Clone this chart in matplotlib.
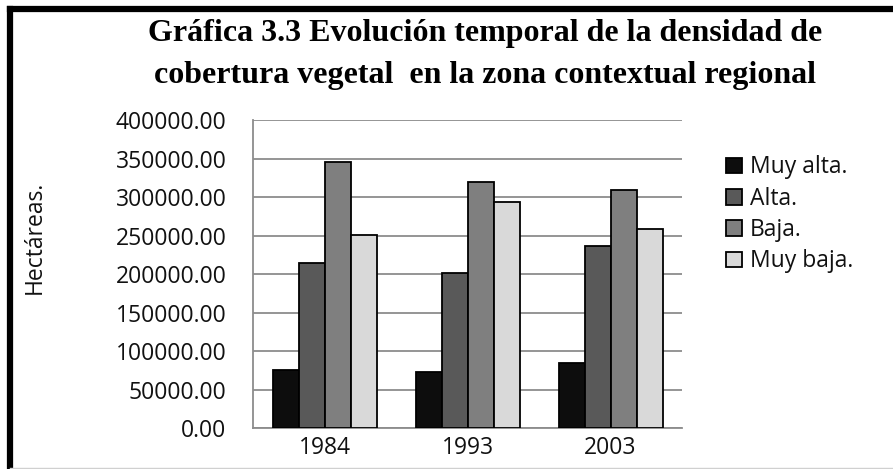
import matplotlib
matplotlib.use("Agg")
import matplotlib.pyplot as plt
import numpy as np
from matplotlib.lines import Line2D

years = ["1984", "1993", "2003"]
series = ["Muy alta.", "Alta.", "Baja.", "Muy baja."]
muy_alta = [75800, 73200, 84100]
alta = [214600, 201200, 237100]
baja = [345900, 320300, 309100]
muy_baja = [251000, 293500, 258800]
values = [muy_alta, alta, baja, muy_baja]
colors = ["#0d0d0d", "#595959", "#7f7f7f", "#d9d9d9"]
yticks = [0, 50000, 100000, 150000, 200000, 250000, 300000, 350000, 400000]

W, H = 893, 469
fig = plt.figure(figsize=(W/100, H/100), dpi=100)
fig.patch.set_facecolor("white")

FS = 16.5
ax = fig.add_axes([253/W, 1-428/H, (682-253)/W, (428-120.5)/H])
x = np.arange(len(years))
bw = 1/5.5
for i, (vals, c, name) in enumerate(zip(values, colors, series)):
    ax.bar(x + (i-1.5)*bw, vals, width=bw, color=c, edgecolor="black",
           linewidth=1.3, label=name, zorder=3)
ax.set_xlim(-0.5, 2.5)
ax.set_ylim(0, 400000)
ax.set_yticks(yticks)
ax.set_yticklabels([f"{v:.2f}" for v in yticks])
ax.set_xticks(x)
ax.set_xticklabels(years)
ax.grid(axis="y", color="#8c8c8c", linewidth=1.3, zorder=0)
for s in ["top", "right"]:
    ax.spines[s].set_visible(False)
for s in ["left", "bottom"]:
    ax.spines[s].set_color("#8c8c8c")
    ax.spines[s].set_linewidth(1.3)
ax.tick_params(axis="y", length=0, pad=19, labelsize=FS)
ax.tick_params(axis="x", length=0, pad=6, labelsize=FS)
for lab in ax.get_xticklabels() + ax.get_yticklabels():
    lab.set_fontfamily("Open Sans")
    lab.set_color("#111111")

fig.text(35/W, 1-237/H, "Hectáreas.", rotation=90, ha="center", va="center",
         fontsize=FS, family="Open Sans", color="#111111")

fig.text(485/W, 1-34/H, "Gráfica 3.3 Evolución temporal de la densidad de",
         ha="center", va="center", fontsize=23, fontweight="bold",
         family="Liberation Serif")
fig.text(485/W, 1-75/H, "cobertura vegetal  en la zona contextual regional",
         ha="center", va="center", fontsize=23, fontweight="bold",
         family="Liberation Serif")

leg = ax.legend(loc="upper left", bbox_to_anchor=(715/W, 1-144/H),
                bbox_transform=fig.transFigure, frameon=False,
                prop={"family": "Open Sans", "size": FS},
                handlelength=0.68, handleheight=0.68, handletextpad=0.35,
                labelspacing=0.32, borderpad=0)
for h in leg.legend_handles:
    h.set_linewidth(1.3)
for t in leg.get_texts():
    t.set_color("#111111")

# frame
fig.add_artist(Line2D([10/W, 10/W], [1-9/H, 0], transform=fig.transFigure,
                      color="black", linewidth=4.5))
fig.add_artist(Line2D([10/W, 1], [1-9/H, 1-9/H], transform=fig.transFigure,
                      color="black", linewidth=4.5))
fig.add_artist(Line2D([10/W, 1], [1-467.5/H, 1-467.5/H], transform=fig.transFigure,
                      color="#d0d0d0", linewidth=1))

fig.savefig("out.png", dpi=100, facecolor="white")
